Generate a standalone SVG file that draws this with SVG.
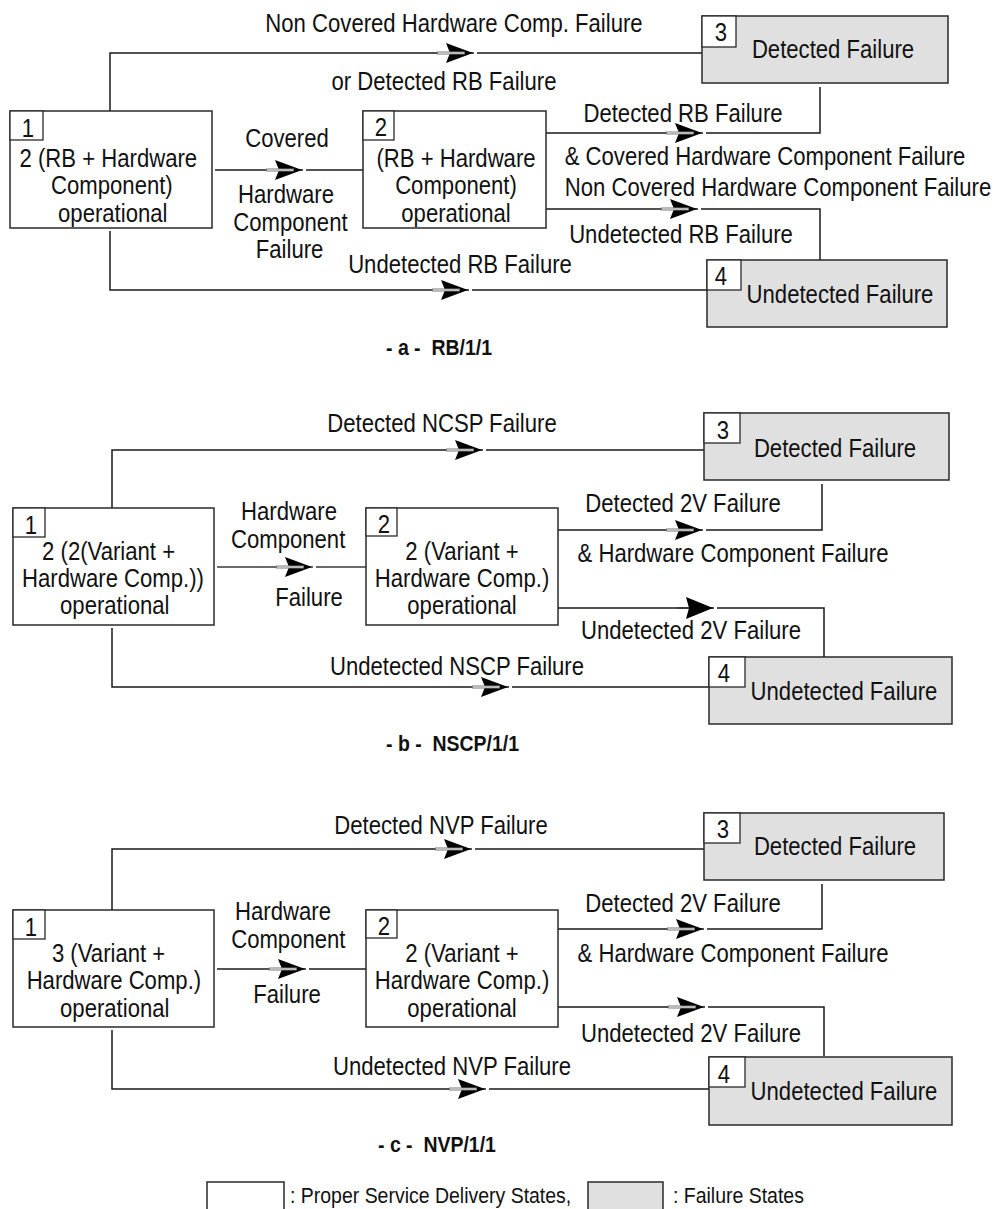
<svg xmlns="http://www.w3.org/2000/svg" xmlns:xlink="http://www.w3.org/1999/xlink" width="1001" height="1209" viewBox="0 0 1001 1209">
  <style>
    .ok { fill: #ffffff; stroke: #2a2a2a; stroke-width: 1.5; }
    .fail { fill: #e0e0e0; stroke: #2a2a2a; stroke-width: 1.5; }
    .num { fill: #ffffff; stroke: #2a2a2a; stroke-width: 1.3; }
    .wire { fill: none; stroke: #1a1a1a; stroke-width: 1.5; }
    .wire-g { fill: none; stroke: #6a6a6a; stroke-width: 2.2; }
    text { font-family: "Liberation Sans", Arial, sans-serif; fill: #111111; }
    .lb { font-size: 25px; text-anchor: middle; }
    .cap { font-size: 22px; font-weight: bold; text-anchor: start; }
    .leg { font-size: 22px; text-anchor: start; }
  </style>
  <defs>
    <!-- filled arrowhead, tip at the origin, pointing right -->
    <g id="ah">
      <polygon points="0,0 -27,-10 -23,0 -27,10" fill="#000000"/>
      <line x1="-36" y1="0" x2="-8" y2="0" stroke="#777777" stroke-width="3"/>
      <line x1="-35" y1="0" x2="-9" y2="0" stroke="#ffffff" stroke-width="1"/>
      <rect x="1" y="-1.5" width="3" height="3" fill="#ffffff"/>
    </g>
    <g id="ah-big">
      <polygon points="0,0 -27,-11 -24,0 -27,11" fill="#000000"/>
      <line x1="-36" y1="0" x2="-24" y2="0" stroke="#333333" stroke-width="1.5"/>
      <rect x="1" y="-1.5" width="3" height="3" fill="#ffffff"/>
    </g>
  </defs>
  <rect width="1001" height="1209" fill="#ffffff"/>

  <!-- ===================== (a) RB/1/1 ===================== -->
  <g id="connectors-a">
    <path class="wire" d="M110,111 V53 H702"/>
    <path class="wire" d="M215,170 H363"/>
    <path class="wire" d="M110,231 V290 H707"/>
    <path class="wire" d="M546,133 H820 V87"/>
    <path class="wire" d="M546,209 H820 V260"/>
    <use xlink:href="#ah" x="473" y="53"/>
    <use xlink:href="#ah" x="302" y="170"/>
    <use xlink:href="#ah" x="468" y="290"/>
    <use xlink:href="#ah" x="702" y="133"/>
    <use xlink:href="#ah" x="697" y="209"/>
  </g>
  <g id="labels-a">
    <text class="lb" transform="translate(454,32) scale(.885,1)">Non Covered Hardware Comp. Failure</text>
    <text class="lb" transform="translate(444,90) scale(.885,1)">or Detected RB Failure</text>
    <text class="lb" transform="translate(287,147) scale(.885,1)">Covered</text>
    <text class="lb" transform="translate(286,203) scale(.885,1)"><tspan x="0">Hardware</tspan><tspan x="5" dy="28">Component</tspan><tspan x="4" dy="27">Failure</tspan></text>
    <text class="lb" transform="translate(460,273) scale(.885,1)">Undetected RB Failure</text>
    <text class="lb" transform="translate(683,122) scale(.885,1)">Detected RB Failure</text>
    <text class="lb" transform="translate(765,165) scale(.885,1)">&amp; Covered Hardware Component Failure</text>
    <text class="lb" transform="translate(778,196) scale(.885,1)">Non Covered Hardware Component Failure</text>
    <text class="lb" transform="translate(681,243) scale(.885,1)">Undetected RB Failure</text>
  </g>
  <g id="a-s1">
    <rect class="ok" x="10" y="111" width="202" height="117"/>
    <rect class="num" x="10" y="111" width="33" height="29"/>
    <text class="lb" transform="translate(28,137) scale(.885,1)">1</text>
    <text class="lb" transform="translate(111,167) scale(.885,1)"><tspan x="-3">2 (RB + Hardware</tspan><tspan x="1" dy="27.5">Component)</tspan><tspan x="2" dy="27.5">operational</tspan></text>
  </g>
  <g id="a-s2">
    <rect class="ok" x="363" y="111" width="183" height="117"/>
    <rect class="num" x="363" y="111" width="31" height="29"/>
    <text class="lb" transform="translate(381,136) scale(.885,1)">2</text>
    <text class="lb" transform="translate(456,167) scale(.885,1)"><tspan x="0">(RB + Hardware</tspan><tspan x="0" dy="27.5">Component)</tspan><tspan x="0" dy="27.5">operational</tspan></text>
  </g>
  <g id="a-s3">
    <rect class="fail" x="702" y="16" width="246" height="67"/>
    <rect class="num" x="702" y="16" width="34" height="31"/>
    <text class="lb" transform="translate(721,41) scale(.885,1)">3</text>
    <text class="lb" transform="translate(833,58) scale(.885,1)">Detected Failure</text>
  </g>
  <g id="a-s4">
    <rect class="fail" x="707" y="260" width="240" height="67"/>
    <rect class="num" x="707" y="260" width="34" height="30"/>
    <text class="lb" transform="translate(721,285) scale(.885,1)">4</text>
    <text class="lb" transform="translate(840,303) scale(.885,1)">Undetected Failure</text>
  </g>
  <text class="cap" transform="translate(386,355) scale(.885,1)" xml:space="preserve">- a -  RB/1/1</text>

  <!-- ===================== (b) NSCP/1/1 ===================== -->
  <g id="connectors-b">
    <path class="wire" d="M112,508 V450 H704"/>
    <path class="wire-g" d="M217,567 H366"/>
    <path class="wire" d="M112,628 V687 H709"/>
    <path class="wire" d="M558,530 H822 V484"/>
    <path class="wire" d="M558,608 H824 V657"/>
    <use xlink:href="#ah" x="482" y="450"/>
    <use xlink:href="#ah" x="312" y="567"/>
    <use xlink:href="#ah" x="508" y="687"/>
    <use xlink:href="#ah" x="702" y="530"/>
    <use xlink:href="#ah-big" x="713" y="608"/>
  </g>
  <g id="labels-b">
    <text class="lb" transform="translate(442,432) scale(.885,1)">Detected NCSP Failure</text>
    <text class="lb" transform="translate(289,520) scale(.885,1)"><tspan x="0">Hardware</tspan><tspan x="-1" dy="28">Component</tspan></text>
    <text class="lb" transform="translate(309,606) scale(.885,1)">Failure</text>
    <text class="lb" transform="translate(457,675) scale(.885,1)">Undetected NSCP Failure</text>
    <text class="lb" transform="translate(683,512) scale(.885,1)">Detected 2V Failure</text>
    <text class="lb" transform="translate(733,562) scale(.885,1)">&amp; Hardware Component Failure</text>
    <text class="lb" transform="translate(691,639) scale(.885,1)">Undetected 2V Failure</text>
  </g>
  <g id="b-s1">
    <rect class="ok" x="13" y="508" width="201" height="117"/>
    <rect class="num" x="13" y="508" width="32" height="29"/>
    <text class="lb" transform="translate(31,534) scale(.885,1)">1</text>
    <text class="lb" transform="translate(113,560) scale(.885,1)"><tspan x="-5">2 (2(Variant +</tspan><tspan x="0" dy="27">Hardware Comp.))</tspan><tspan x="2" dy="27">operational</tspan></text>
  </g>
  <g id="b-s2">
    <rect class="ok" x="366" y="508" width="192" height="117"/>
    <rect class="num" x="366" y="508" width="31" height="28"/>
    <text class="lb" transform="translate(384,533) scale(.885,1)">2</text>
    <text class="lb" transform="translate(462,560) scale(.885,1)"><tspan x="0">2 (Variant +</tspan><tspan x="0" dy="27">Hardware Comp.)</tspan><tspan x="0" dy="27">operational</tspan></text>
  </g>
  <g id="b-s3">
    <rect class="fail" x="704" y="413" width="245" height="67"/>
    <rect class="num" x="704" y="413" width="36" height="30"/>
    <text class="lb" transform="translate(723,439) scale(.885,1)">3</text>
    <text class="lb" transform="translate(835,457) scale(.885,1)">Detected Failure</text>
  </g>
  <g id="b-s4">
    <rect class="fail" x="709" y="657" width="243" height="67"/>
    <rect class="num" x="709" y="657" width="36" height="30"/>
    <text class="lb" transform="translate(724,682) scale(.885,1)">4</text>
    <text class="lb" transform="translate(844,700) scale(.885,1)">Undetected Failure</text>
  </g>
  <text class="cap" transform="translate(386,751) scale(.885,1)" xml:space="preserve">- b -  NSCP/1/1</text>

  <!-- ===================== (c) NVP/1/1 ===================== -->
  <g id="connectors-c">
    <path class="wire" d="M112,910 V849 H704"/>
    <path class="wire" d="M217,969 H366"/>
    <path class="wire" d="M112,1030 V1089 H709"/>
    <path class="wire" d="M558,929 H822 V884"/>
    <path class="wire" d="M558,1007 H824 V1056"/>
    <use xlink:href="#ah" x="471" y="849"/>
    <use xlink:href="#ah" x="305" y="969"/>
    <use xlink:href="#ah" x="485" y="1089"/>
    <use xlink:href="#ah" x="703" y="929"/>
    <use xlink:href="#ah" x="704" y="1007"/>
  </g>
  <g id="labels-c">
    <text class="lb" transform="translate(441,834) scale(.885,1)">Detected NVP Failure</text>
    <text class="lb" transform="translate(283,920) scale(.885,1)"><tspan x="0">Hardware</tspan><tspan x="6" dy="28">Component</tspan></text>
    <text class="lb" transform="translate(287,1003) scale(.885,1)">Failure</text>
    <text class="lb" transform="translate(452,1075) scale(.885,1)">Undetected NVP Failure</text>
    <text class="lb" transform="translate(683,912) scale(.885,1)">Detected 2V Failure</text>
    <text class="lb" transform="translate(733,962) scale(.885,1)">&amp; Hardware Component Failure</text>
    <text class="lb" transform="translate(691,1042) scale(.885,1)">Undetected 2V Failure</text>
  </g>
  <g id="c-s1">
    <rect class="ok" x="13" y="910" width="201" height="117"/>
    <rect class="num" x="13" y="910" width="32" height="29"/>
    <text class="lb" transform="translate(31,936) scale(.885,1)">1</text>
    <text class="lb" transform="translate(113,962) scale(.885,1)"><tspan x="-5">3 (Variant +</tspan><tspan x="1" dy="27.5">Hardware Comp.)</tspan><tspan x="2" dy="27.5">operational</tspan></text>
  </g>
  <g id="c-s2">
    <rect class="ok" x="366" y="910" width="192" height="117"/>
    <rect class="num" x="366" y="910" width="31" height="28"/>
    <text class="lb" transform="translate(384,935) scale(.885,1)">2</text>
    <text class="lb" transform="translate(462,962) scale(.885,1)"><tspan x="0">2 (Variant +</tspan><tspan x="0" dy="27.5">Hardware Comp.)</tspan><tspan x="0" dy="27.5">operational</tspan></text>
  </g>
  <g id="c-s3">
    <rect class="fail" x="704" y="813" width="240" height="67"/>
    <rect class="num" x="704" y="813" width="36" height="30"/>
    <text class="lb" transform="translate(723,838) scale(.885,1)">3</text>
    <text class="lb" transform="translate(835,855) scale(.885,1)">Detected Failure</text>
  </g>
  <g id="c-s4">
    <rect class="fail" x="709" y="1057" width="243" height="68"/>
    <rect class="num" x="709" y="1057" width="36" height="30"/>
    <text class="lb" transform="translate(724,1083) scale(.885,1)">4</text>
    <text class="lb" transform="translate(844,1100) scale(.885,1)">Undetected Failure</text>
  </g>
  <text class="cap" transform="translate(378,1152) scale(.885,1)" xml:space="preserve">- c -  NVP/1/1</text>

  <!-- ===================== legend ===================== -->
  <g id="legend">
    <rect class="ok" x="207" y="1182" width="77" height="40"/>
    <text class="leg" transform="translate(290,1203) scale(.885,1)">: Proper Service Delivery States,</text>
    <rect class="fail" x="588" y="1182" width="75" height="40"/>
    <text class="leg" transform="translate(673,1203) scale(.885,1)">: Failure States</text>
  </g>
</svg>
